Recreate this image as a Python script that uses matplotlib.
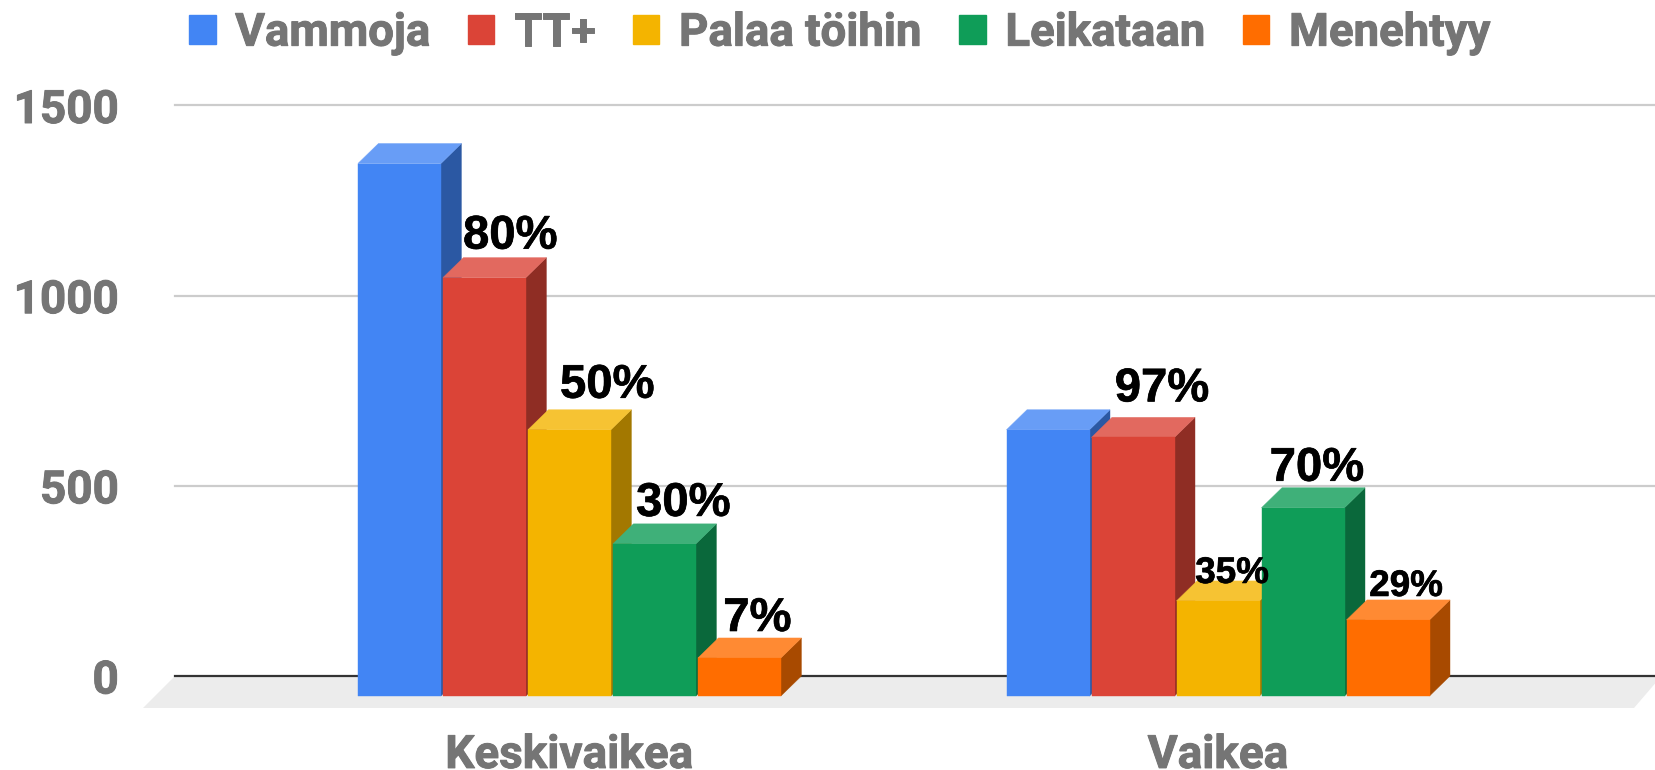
"""Injury outcomes by severity: 3D-look grouped bars with a floor."""

import matplotlib

matplotlib.use("Agg")
import matplotlib.patheffects as pe
import matplotlib.pyplot as plt
from matplotlib.patches import Patch

# Chart data.
CATEGORIES = ["Keskivaikea", "Vaikea"]
SERIES = ["Vammoja", "TT+", "Palaa töihin", "Leikataan", "Menehtyy"]
KESKIVAIKEA = [1400, 1100, 700, 400, 100]
VAIKEA = [700, 680, 250, 495, 200]
KESKIVAIKEA_LABELS = [None, "80%", "50%", "30%", "7%"]
VAIKEA_LABELS = [None, "97%", "35%", "70%", "29%"]
Y_TICKS = [0, 500, 1000, 1500]

# Face colours per series: front, top, side.
FRONT = ["#4285F4", "#DB4437", "#F4B400", "#0F9D58", "#FF6D00"]
TOP = ["#689DF6", "#E2695F", "#F6C333", "#3FB079", "#FF8A33"]
SIDE = ["#2B58A3", "#8F2D24", "#A37800", "#0A683B", "#A84A00"]

GREY_TEXT = "#757575"
W, H = 1655, 770

# Layout in pixels: axes box, and scale between pixels and data.
AX_LEFT, AX_RIGHT, AX_TOP, AX_BOTTOM = 175, 1655, 105.5, 676
GROUP_PX = 648.6
CENTER0_PX = 569.4
PX_PER_UNIT = (AX_BOTTOM - AX_TOP) / 1500
STEP = 85 / GROUP_PX
BAR_W = 83 / GROUP_PX
DX = 20.5 / GROUP_PX
DY = 20 / PX_PER_UNIT

# Data-label offsets from the bar's front centre and back top, in pixels.
OFFSETS = [
    [None, (26, 9), (38, 12), (29, 8), (18, 7)],
    [None, (29, 16), (14, -2), (14, 7), (18, 4)],
]
LABEL_SIZES = [[34, 34, 34, 34, 34], [34, 34, 26.5, 34, 26.5]]

plt.rcParams["font.family"] = ["Roboto", "DejaVu Sans"]
plt.rcParams["font.weight"] = "bold"

thick_grey = [pe.withStroke(linewidth=0.7, foreground=GREY_TEXT)]
thick_black = [pe.withStroke(linewidth=0.5, foreground="black")]

fig = plt.figure(figsize=(W / 100, H / 100), dpi=100, facecolor="white")
ax = fig.add_axes([AX_LEFT / W, 1 - AX_BOTTOM / H, (AX_RIGHT - AX_LEFT) / W, (AX_BOTTOM - AX_TOP) / H])
ax.set_xlim((AX_LEFT - CENTER0_PX) / GROUP_PX, (AX_RIGHT - CENTER0_PX) / GROUP_PX)
ax.set_ylim(0, 1500)
x0, x1 = ax.get_xlim()

for spine in ax.spines.values():
    spine.set_visible(False)

# Floor and back-wall lines.
floor_y = -32 / PX_PER_UNIT
ax.fill(
    [x0, x1 + 0.01, x1 - 21 / GROUP_PX, x0 - 32 / GROUP_PX],
    [0, 0, floor_y, floor_y],
    color="#ECECEC", lw=0, clip_on=False, zorder=1,
)
for tick in Y_TICKS[1:]:
    ax.axhline(tick, color="#CCCCCC", lw=1.6, zorder=2, clip_on=False)
ax.axhline(0, color="#333333", lw=1.6, zorder=2, clip_on=False)

z = 3
for g, values in enumerate([KESKIVAIKEA, VAIKEA]):
    for i, val in enumerate(values):
        center = g + (i - 2) * STEP
        left, right = center - BAR_W / 2, center + BAR_W / 2
        front_top = val - DY
        ax.fill(
            [right, right + DX, right + DX, right], [-DY, 0, val, front_top],
            color=SIDE[i], lw=0.3, clip_on=False, zorder=z,
        )
        ax.fill(
            [left, right, right + DX, left + DX], [front_top, front_top, val, val],
            color=TOP[i], lw=0.3, clip_on=False, zorder=z,
        )
        ax.fill(
            [left, right, right, left], [-DY, -DY, front_top, front_top],
            color=FRONT[i], lw=0.3, clip_on=False, zorder=z,
        )
        z += 1

# Labels sit above all the bars.
for g, (values, labels) in enumerate(zip([KESKIVAIKEA, VAIKEA], [KESKIVAIKEA_LABELS, VAIKEA_LABELS])):
    for i, (val, lab) in enumerate(zip(values, labels)):
        if lab is None:
            continue
        ax.annotate(
            lab, xy=(g + (i - 2) * STEP, val), xytext=OFFSETS[g][i], textcoords="offset pixels",
            ha="center", va="baseline", color="black", fontsize=LABEL_SIZES[g][i],
            family=["Liberation Sans"], fontweight="bold", zorder=50, annotation_clip=False,
            path_effects=thick_black,
        )

ax.set_yticks(Y_TICKS)
ax.set_xticks(range(len(CATEGORIES)))
ax.set_xticklabels(CATEGORIES)
ax.tick_params(axis="y", length=0, pad=40.5, labelsize=33, labelcolor=GREY_TEXT)
ax.tick_params(axis="x", length=0, pad=41, labelsize=33, labelcolor=GREY_TEXT)
for lab in ax.get_xticklabels() + ax.get_yticklabels():
    lab.set_path_effects(thick_grey)
for lab in ax.get_yticklabels():
    lab.set_verticalalignment("center_baseline")

handles = [Patch(facecolor=c, edgecolor=c, lw=1, joinstyle="round") for c in FRONT]
leg = fig.legend(
    handles, SERIES, ncols=5, loc="upper left", bbox_to_anchor=(175 / W, 1 + 3 / H),
    frameon=False, fontsize=32.8, labelcolor=GREY_TEXT,
    handlelength=0.59, handleheight=0.59, handletextpad=0.43, columnspacing=0.824,
    borderaxespad=0, borderpad=0.3,
)
for txt in leg.get_texts():
    txt.set_path_effects(thick_grey)

fig.savefig("out.png", dpi=100)
